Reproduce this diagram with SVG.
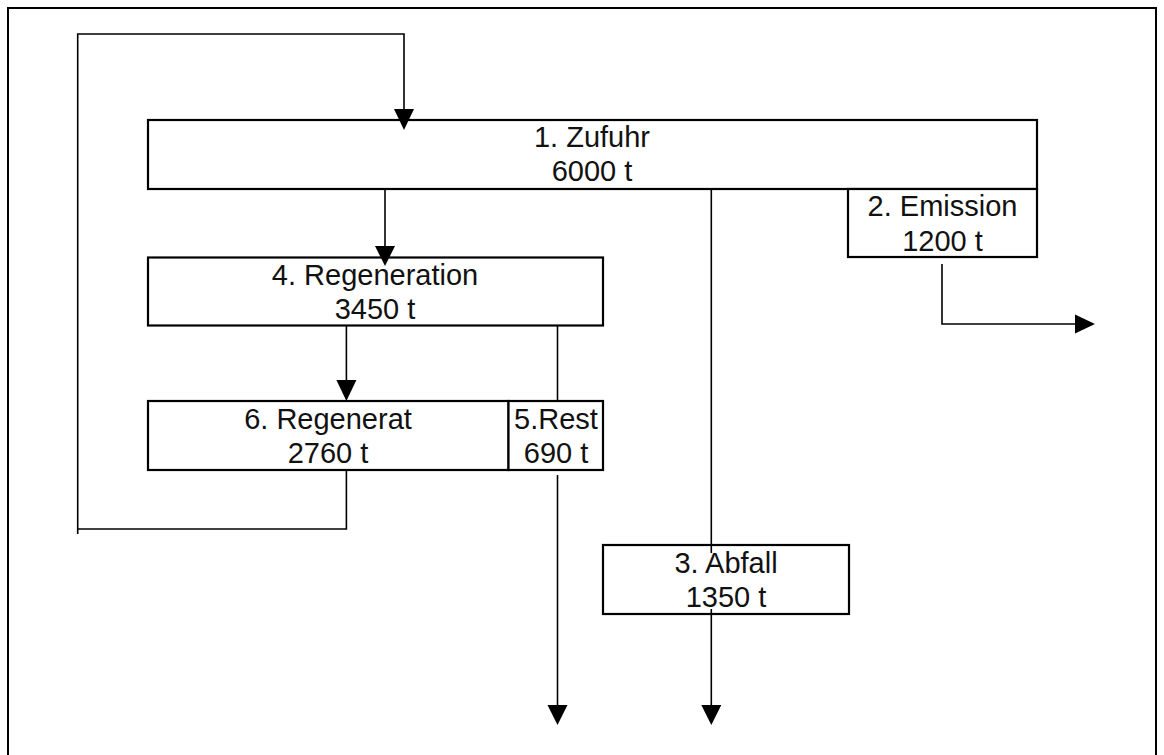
<svg xmlns="http://www.w3.org/2000/svg" width="1164" height="755" viewBox="0 0 1164 755">
<style>
.box{fill:#fff;stroke:#000;stroke-width:2.2}
.frame{fill:none;stroke:#000;stroke-width:2}
.ln{fill:none;stroke:#000;stroke-width:1.6}
.ah{fill:#000;stroke:none}
text{font-family:"Liberation Sans",Arial,sans-serif;font-size:29px;fill:#111;text-anchor:middle}
</style>
<rect class="frame" x="8" y="8" width="1148" height="770"/>
<g id="n1"><rect class="box" x="148" y="120" width="889" height="69"/><text x="592" y="147">1. Zufuhr</text><text x="592" y="181">6000 t</text></g>
<g id="n2"><rect class="box" x="848" y="189" width="189" height="68"/><text x="942.5" y="216">2. Emission</text><text x="942.5" y="251">1200 t</text></g>
<g id="n4"><rect class="box" x="148" y="257.5" width="455" height="68"/><text x="375" y="285">4. Regeneration</text><text x="375" y="319">3450 t</text></g>
<g id="n6"><rect class="box" x="148" y="401" width="360.5" height="69"/><text x="328" y="429">6. Regenerat</text><text x="328" y="463">2760 t</text></g>
<g id="n5"><rect class="box" x="508.5" y="401" width="94.5" height="69"/><text x="556" y="429">5.Rest</text><text x="556" y="463">690 t</text></g>
<g id="n3"><rect class="box" x="603" y="545" width="246" height="69"/><text x="726" y="573">3. Abfall</text><text x="726" y="607">1350 t</text></g>
<g id="connectors">
  <polyline class="ln" points="346.4,471 346.4,529 77.7,529"/>
  <polyline class="ln" points="77.7,534 77.7,34 404,34 404,112"/>
  <polygon class="ah" points="394,109 414,109 404,130"/>
  <line class="ln" x1="385" y1="189" x2="385" y2="248"/>
  <polygon class="ah" points="375,246 395,246 385,266"/>
  <line class="ln" x1="346.4" y1="326" x2="346.4" y2="382"/>
  <polygon class="ah" points="336.4,380 356.4,380 346.4,401"/>
  <line class="ln" x1="557.5" y1="325" x2="557.5" y2="401"/>
  <line class="ln" x1="557.5" y1="475" x2="557.5" y2="707"/>
  <polygon class="ah" points="547.5,705 567.5,705 557.5,725"/>
  <polyline class="ln" points="942,264 942,324 1077,324"/>
  <polygon class="ah" points="1075,314.5 1075,333.5 1095,324"/>
  <line class="ln" x1="711.3" y1="188" x2="711.3" y2="553"/>
  <line class="ln" x1="711.3" y1="609" x2="711.3" y2="707"/>
  <polygon class="ah" points="701.3,705 721.3,705 711.3,725"/>
</g>
</svg>
